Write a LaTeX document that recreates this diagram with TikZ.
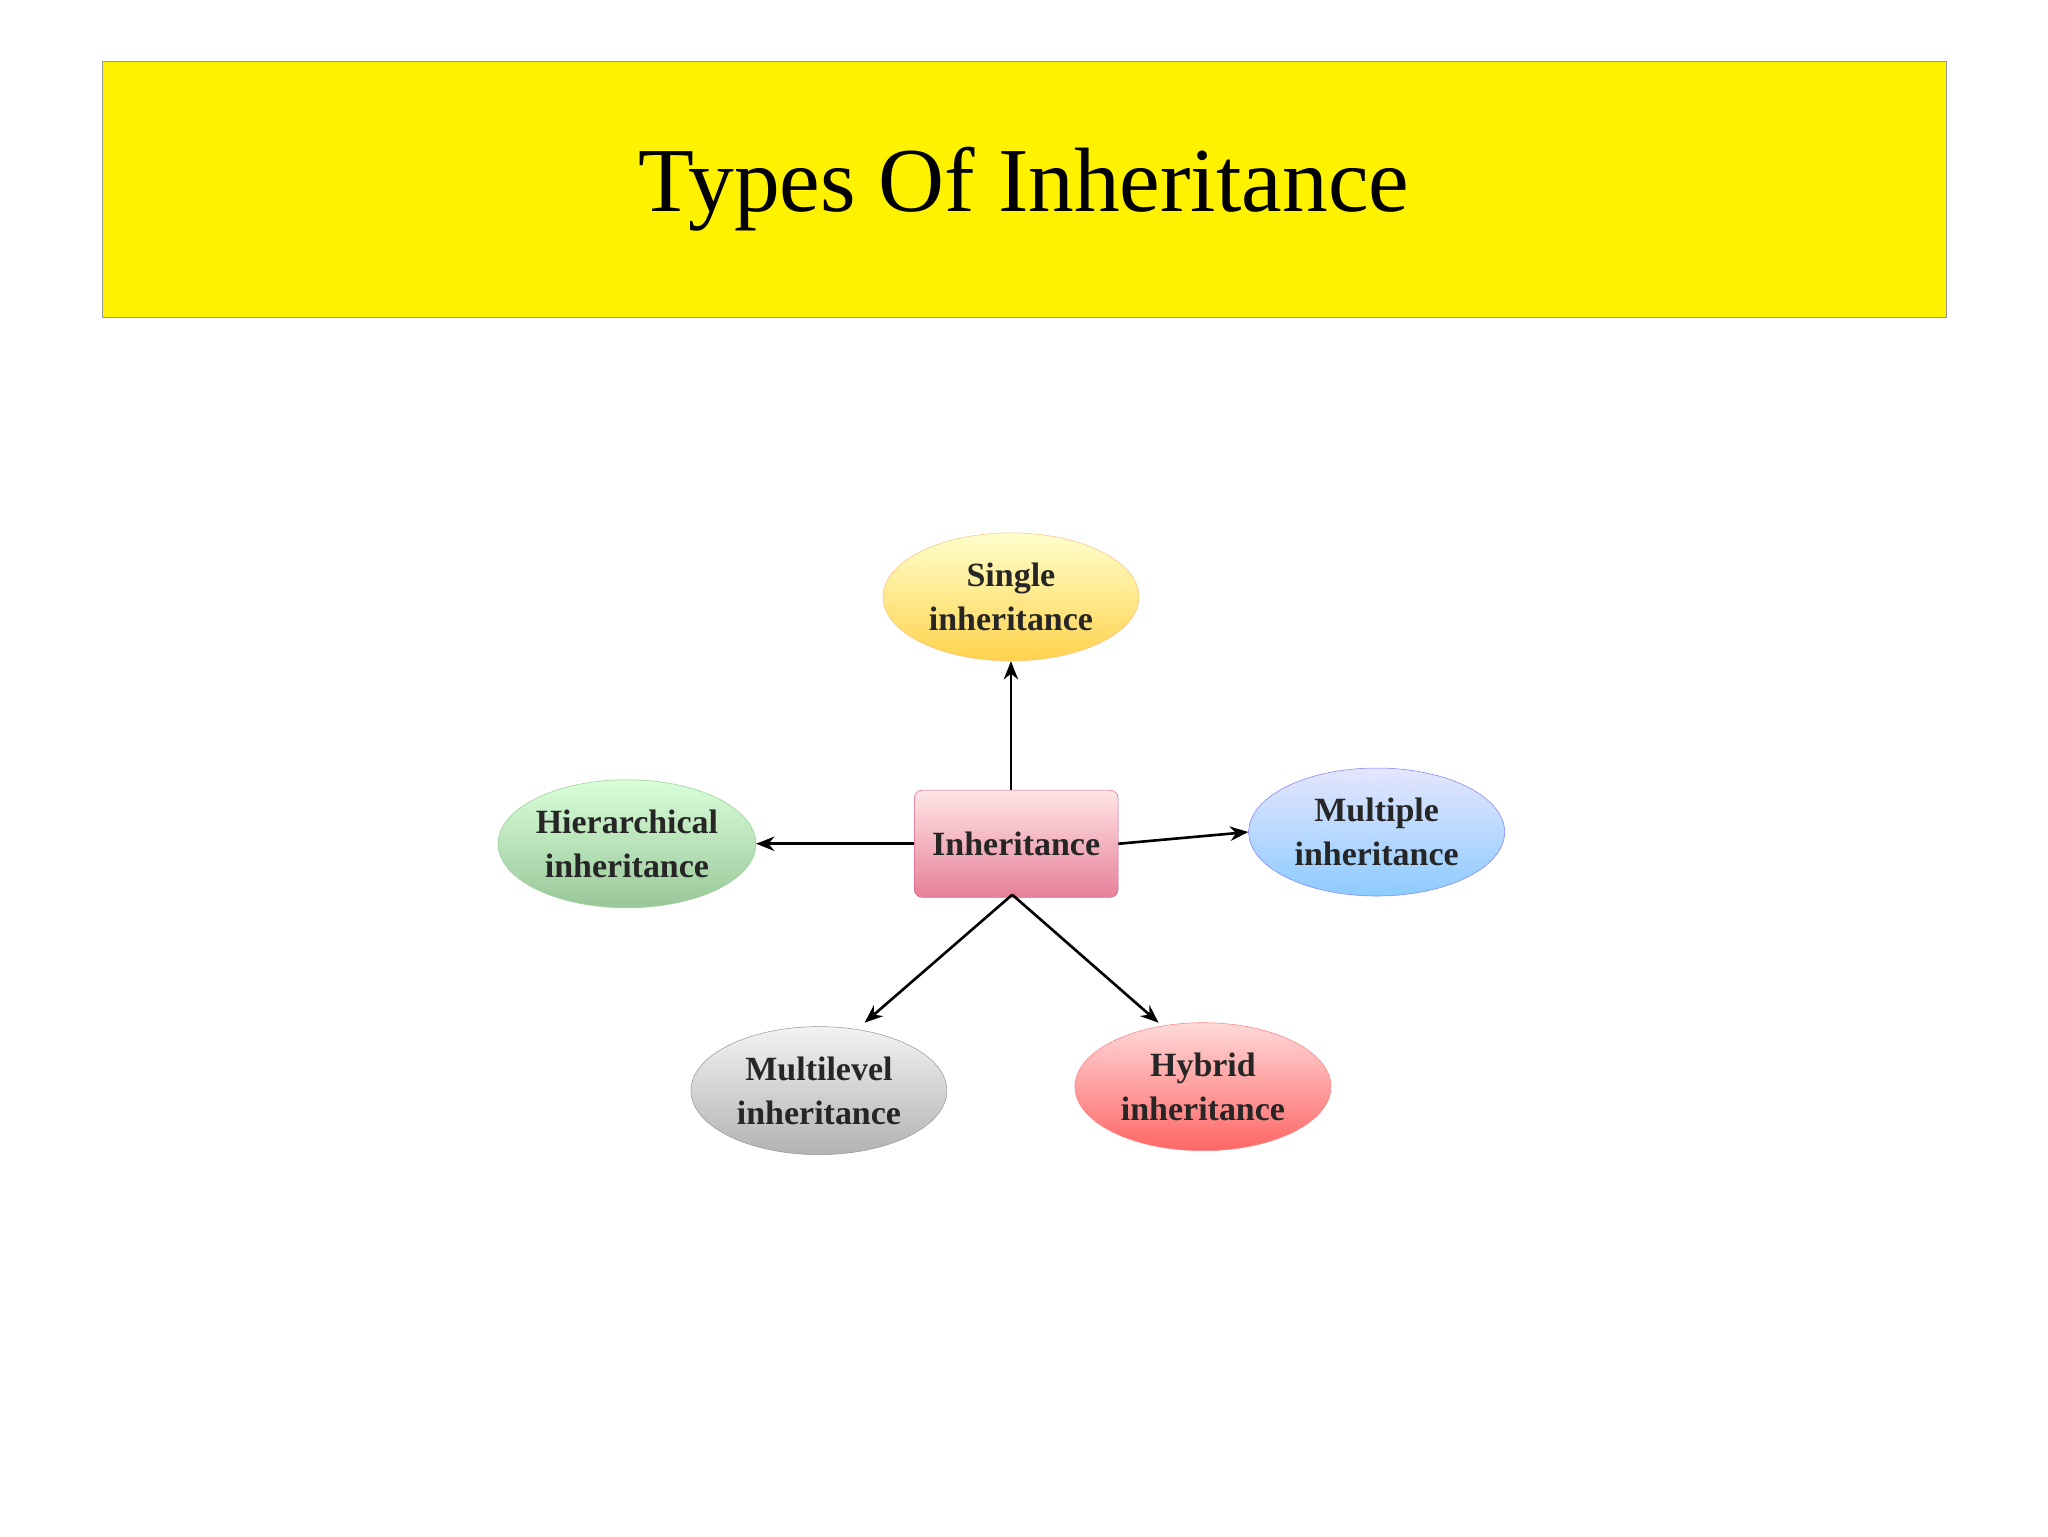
\documentclass[tikz,border=0pt]{standalone}
\usepackage{fontspec}
\setmainfont{Liberation Serif}
\usetikzlibrary{shapes.geometric,arrows.meta}
\begin{document}
\begin{tikzpicture}[x=1pt,y=-1pt,
 ell/.style={ellipse,minimum width=196pt,minimum height=98pt,inner sep=0pt,align=center,font=\fontsize{26}{34}\selectfont\bfseries,text=black!85},
 arr/.style={-{Stealth[length=14pt,width=11pt]},line width=2pt}]
\useasboundingbox (0,0) rectangle (1568,1176);
\fill[white] (0,0) rectangle (1568,1176);
\node[draw=black!40,fill=yellow,minimum width=1412pt,minimum height=196pt,font=\fontsize{70}{80}\selectfont] (title) at (784,145) {Types Of Inheritance};
\node[draw=purple!60,rounded corners=6pt,top color=pink!40,bottom color=purple!50!pink!80,minimum width=156pt,minimum height=82pt,inner sep=0pt,font=\fontsize{26}{34}\selectfont\bfseries,text=black!85] (inh) at (778,646) {Inheritance};
\node[ell,draw=orange!50,top color=yellow!20,bottom color=orange!50!yellow!70] (single) at (774,457) {Single\\inheritance};
\node[ell,draw=green!50!black!40,top color=green!15,bottom color=green!45!black!40!white] (hier) at (480,646) {Hierarchical\\inheritance};
\node[ell,draw=blue!50,top color=blue!10,bottom color=blue!45!cyan!45] (mult) at (1054,637) {Multiple\\inheritance};
\node[ell,draw=black!40,top color=black!5,bottom color=black!30] (mlev) at (627,835) {Multilevel\\inheritance};
\node[ell,draw=red!50,top color=red!15,bottom color=red!60] (hyb) at (921,832) {Hybrid\\inheritance};
\coordinate (b) at (775,685);
\draw[arr] (inh.north -| single.south) -- (single.south);
\draw[arr] (inh.west) -- (hier.east);
\draw[arr] (inh.east) -- (mult.west);
\draw[arr] (b) -- (662,783) coordinate (p1);
\draw[arr] (b) -- (887,783) coordinate (p2);
\end{tikzpicture}
\end{document}
